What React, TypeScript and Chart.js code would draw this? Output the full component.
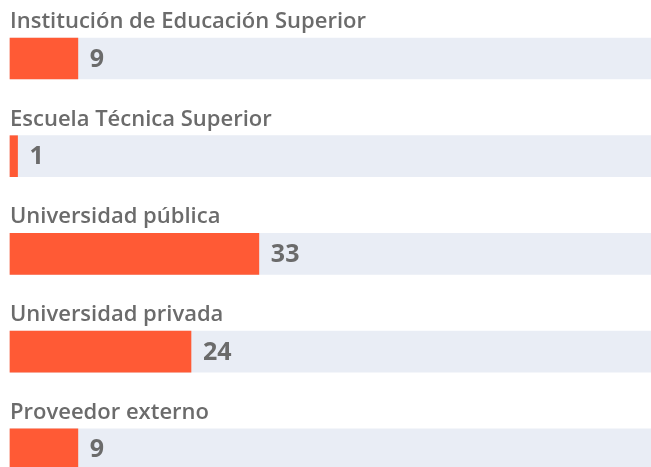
import React, { useEffect, useRef } from "react";
import { Chart, registerables } from "chart.js";

Chart.register(...registerables);

const categories = [
  "Institución de Educación Superior",
  "Escuela Técnica Superior",
  "Universidad pública",
  "Universidad privada",
  "Proveedor externo",
];
const values = [9, 1, 33, 24, 9];
const trackMax = 85;
const trackValues = categories.map(() => trackMax);

const ORANGE = "#FF5A35";
const TRACK = "#E9EDF5";
const TEXT = "#6B6B6B";

const labelPlugin = {
  id: "rowLabels",
  afterDatasetsDraw(chart: any) {
    const ctx = chart.ctx;
    const meta = chart.getDatasetMeta(0);
    const area = chart.chartArea;
    ctx.save();
    meta.data.forEach((bar: any, i: number) => {
      const h = bar.height;
      ctx.fillStyle = TEXT;
      ctx.font = "600 22px 'Open Sans'";
      ctx.textAlign = "left";
      ctx.textBaseline = "alphabetic";
      ctx.fillText(categories[i], area.left, bar.y - h / 2 - 10);
      ctx.font = "bold 25px 'Open Sans'";
      ctx.textBaseline = "middle";
      ctx.fillText(String(values[i]), bar.x + 12, bar.y + 1);
    });
    ctx.restore();
  },
};

export default function App() {
  const ref = useRef<HTMLCanvasElement | null>(null);
  useEffect(() => {
    if (!ref.current) return;
    const chart = new Chart(ref.current, {
      type: "bar",
      data: {
        labels: categories,
        datasets: [
          {
            data: values,
            backgroundColor: ORANGE,
            barThickness: 41,
            grouped: false,
            order: 0,
            clip: false as any,
          },
          {
            data: trackValues,
            backgroundColor: TRACK,
            barThickness: 41,
            grouped: false,
            order: 1,
            clip: false as any,
          },
        ],
      },
      options: {
        indexAxis: "y",
        responsive: false,
        animation: false,
        layout: { padding: { left: 10, right: 0, top: 58.5, bottom: 17.7 } },
        scales: {
          x: { display: false, min: 0, max: trackMax },
          y: { display: false, offset: false },
        },
        plugins: {
          legend: { display: false },
          tooltip: { enabled: false },
        },
      },
      plugins: [labelPlugin],
    });
    return () => chart.destroy();
  }, []);
  return (
    <div style={{ position: "absolute", left: 0, top: 0, width: 651, height: 467 }}>
      <canvas ref={ref} width={651} height={467} style={{ display: "block" }} />
    </div>
  );
}
